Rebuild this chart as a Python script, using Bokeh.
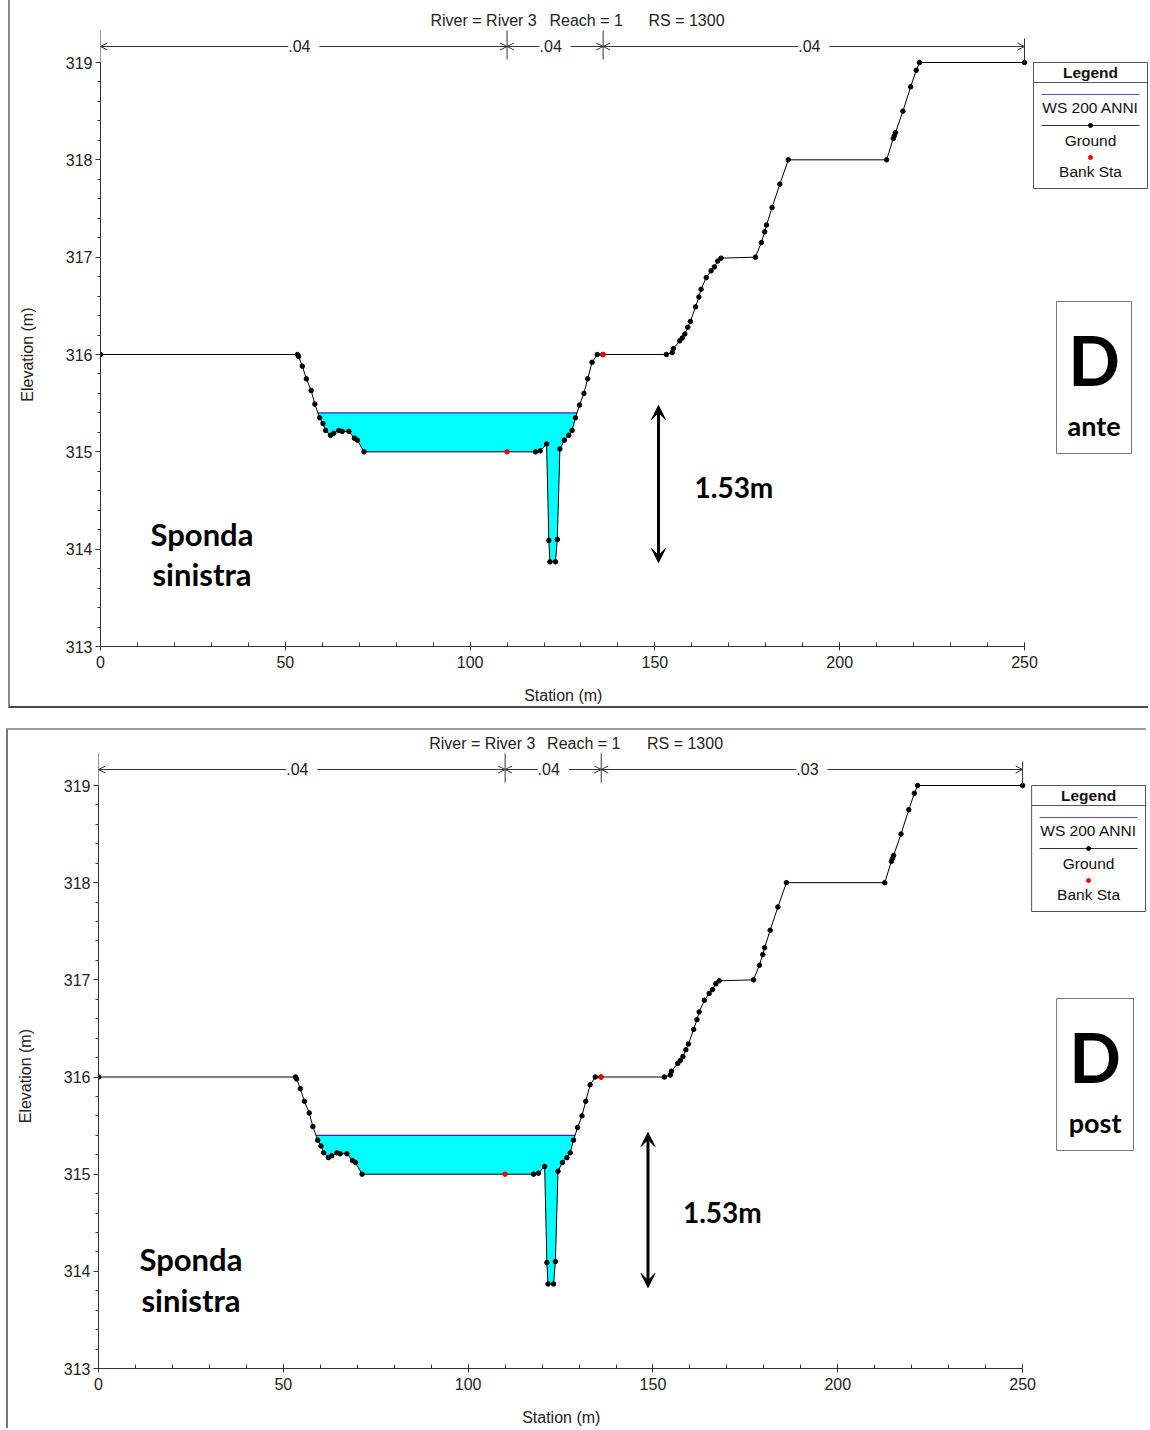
import numpy as np
from bokeh.plotting import figure
from bokeh.models import Range1d, FixedTicker, Label, Arrow, OpenHead, VeeHead
from bokeh.layouts import column
from bokeh.embed import file_html
from bokeh.resources import INLINE

# ---------------- data ----------------
station = [0, 53.3, 53.6, 54.6, 55.7, 57.0, 58.0, 59.3, 60.2, 60.9, 62.2, 63.1, 64.5,
           65.4, 67.2, 68.7, 69.5, 71.3, 117.7, 119.0, 120.7, 121.3, 121.6, 123.1,
           123.6, 124.3, 125.5, 126.7, 127.6, 128.5, 129.6, 130.8, 131.8, 133.0,
           134.4, 135.9, 153.1, 154.7, 155.0, 156.7, 157.4, 158.1, 158.9, 159.6,
           161.0, 161.9, 162.5, 163.9, 165.2, 166.1, 167.0, 167.9, 177.2, 178.8,
           179.7, 180.2, 181.7, 183.8, 186.1, 212.7, 214.5, 214.8, 215.1, 217.1,
           219.2, 220.7, 221.6, 250]
elevation = [316, 316, 315.98, 315.88, 315.75, 315.63, 315.49, 315.35, 315.29, 315.22,
             315.17, 315.19, 315.22, 315.21, 315.21, 315.14, 315.12, 315.0, 315.0,
             315.01, 315.08, 314.09, 313.87, 313.87, 314.10, 315.03, 315.12, 315.17,
             315.22, 315.35, 315.48, 315.60, 315.75, 315.92, 316.0, 316.0, 316.0,
             316.02, 316.06, 316.14, 316.17, 316.21, 316.28, 316.34, 316.49, 316.59,
             316.67, 316.79, 316.86, 316.90, 316.96, 316.99, 317.0, 317.15, 317.26,
             317.33, 317.51, 317.75, 318.0, 318.0, 318.22, 318.25, 318.28, 318.5,
             318.75, 318.92, 319.0, 319.0]
bank_stations = [110.0, 136.0]
ws_elevation = 315.40
n_ante = [".04", ".04", ".04"]
n_post = [".04", ".04", ".03"]
x_ticks = [0, 50, 100, 150, 200, 250]
y_ticks = [313, 314, 315, 316, 317, 318, 319]
header_texts = ["River = River 3", "Reach = 1", "RS = 1300"]
legend_title = "Legend"
legend_labels = ["WS 200 ANNI", "Ground", "Bank Sta"]
x_label = "Station (m)"
y_label = "Elevation (m)"
depth_text = "1.53m"
bank_text = ["Sponda", "sinistra"]
tags = [("D", "ante"), ("D", "post")]

FONT = "Liberation Sans"
BOLD = "Lato"
W = 1140
NBSP = "\u00a0"

st = np.array(station, dtype=float)
el = np.array(elevation, dtype=float)

# water polygon from ground / water-surface intersection
cross = []
for i in range(len(st) - 1):
    a, b = el[i] - ws_elevation, el[i + 1] - ws_elevation
    if a * b < 0:
        xc = st[i] + (ws_elevation - el[i]) * (st[i + 1] - st[i]) / (el[i + 1] - el[i])
        cross.append((i, xc))
(il, xl), (ir, xr) = cross[0], cross[-1]
wx = [xl] + list(st[il + 1:ir + 1]) + [xr]
wy = [ws_elevation] + list(el[il + 1:ir + 1]) + [ws_elevation]
bank_elev = list(np.interp(bank_stations, st, el))


def build(P, n_vals, tag):
    x0p, x250p, y319p, y313p = P["axis"]
    ctop, cleft, H = P["ctop"], P["cleft"], P["H"]
    sx = (x250p - x0p) / 250.0
    sy = (y313p - y319p) / 6.0

    def X(px):
        return (px - x0p) / sx

    def Y(py):
        return 313 + (y313p - py) / sy

    p = figure(width=W, height=H, output_backend="svg", toolbar_location=None,
               x_range=Range1d(0, (cleft + W - x0p) / sx),
               y_range=Range1d(313, Y(ctop)),
               min_border_left=x0p - cleft, min_border_right=0,
               min_border_top=0, min_border_bottom=ctop + H - y313p)
    p.styles = P["styles"]
    p.outline_line_color = None
    p.xgrid.visible = False
    p.ygrid.visible = False
    p.background_fill_color = "white"
    p.border_fill_color = "white"

    # axes
    p.xaxis.ticker = FixedTicker(ticks=x_ticks, minor_ticks=list(range(0, 251, 10)))
    p.yaxis.ticker = FixedTicker(ticks=y_ticks,
                                 minor_ticks=[313 + 0.2 * k for k in range(31)])
    p.xaxis.bounds = (0, 250)
    p.yaxis.bounds = (313, 319)
    for ax in (p.xaxis[0], p.yaxis[0]):
        ax.axis_line_color = "#333333"
        ax.major_tick_line_color = "#333333"
        ax.minor_tick_line_color = "#333333"
        ax.major_label_text_font = FONT
        ax.major_label_text_font_size = "16px"
        ax.major_label_text_color = "#222222"
        ax.axis_label_text_font = FONT
        ax.axis_label_text_font_size = "16px"
        ax.axis_label_text_font_style = "normal"
        ax.axis_label_text_color = "#222222"
    p.xaxis.major_tick_in = 4
    p.xaxis.major_tick_out = 4
    p.xaxis.minor_tick_in = 4
    p.xaxis.minor_tick_out = 0
    p.xaxis.major_label_standoff = 5
    p.yaxis.major_tick_in = 0
    p.yaxis.major_tick_out = 5
    p.yaxis.minor_tick_in = 0
    p.yaxis.minor_tick_out = 3
    p.yaxis.major_label_standoff = 3
    # the plot frame is wider/taller than the 0-250 / 313-319 axes, so the axis
    # titles are padded with non-breaking spaces to centre them on the axes
    p.xaxis.axis_label = x_label + NBSP * P["xpad"]
    p.xaxis.axis_label_standoff = 16
    p.yaxis.axis_label = y_label + NBSP * P["ypad"]
    p.yaxis.axis_label_standoff = 27

    # water
    p.patch(wx, wy, fill_color="#00FFFF", line_color=None)
    p.line([xl, xr], [ws_elevation, ws_elevation], line_color="#2a2ad0", line_width=1.2)
    # ground
    p.line(st, el, line_color="black", line_width=1)
    p.scatter(st, el, size=4.5, color="black")
    p.scatter(bank_stations, bank_elev, size=4.5, color="red")

    # Manning's n dimension lines
    ydim = Y(P["dim_y"])
    edges = [0.0] + bank_stations + [250.0]
    for k in range(3):
        p.add_layout(Arrow(x_start=edges[k], y_start=ydim, x_end=edges[k + 1], y_end=ydim,
                           start=OpenHead(size=7, line_width=1, line_color="#333333"),
                           end=OpenHead(size=7, line_width=1, line_color="#333333"),
                           line_width=1, line_color="#333333"))
        p.add_layout(Label(x=(edges[k] + edges[k + 1]) / 2, y=ydim, text=" " + n_vals[k] + " ",
                           text_align="center", text_baseline="middle",
                           text_font=FONT, text_font_size="16px", text_color="#222222",
                           background_fill_color="white"))
    ytk_top = Y(P["dim_y"] - 16)
    ytk_bot = Y(P["dim_y"] + 13)
    p.segment(x0=bank_stations, y0=[ytk_bot] * 2, x1=bank_stations, y1=[ytk_top] * 2,
              line_color="#333333", line_width=1)
    p.segment(x0=[0, 250], y0=[319, 319], x1=[0, 250], y1=[ytk_top, Y(P["dim_y"] - 8)],
              line_color="#333333", line_width=1)

    # header
    for (hx, txt) in zip(P["header_x"], header_texts):
        p.add_layout(Label(x=X(hx), y=Y(P["header_y"]), text=txt, text_align="left",
                           text_baseline="middle", text_font=FONT, text_font_size="16px",
                           text_color="#222222"))

    # legend box
    lx0, lx1, ly0, ly1 = P["legend"]
    p.quad(left=X(lx0), right=X(lx1), top=Y(ly0), bottom=Y(ly1),
           fill_color="white", line_color="#555555", line_width=1)
    cx = (lx0 + lx1) / 2
    p.add_layout(Label(x=X(cx), y=Y(ly0 + 10), text=legend_title, text_align="center",
                       text_baseline="middle", text_font=FONT, text_font_size="15.5px",
                       text_font_style="bold", text_color="#111111"))
    p.segment(x0=X(lx0), y0=Y(ly0 + 20), x1=X(lx1), y1=Y(ly0 + 20),
              line_color="#555555", line_width=1)
    p.segment(x0=X(lx0 + 8), y0=Y(ly0 + 32), x1=X(lx1 - 8), y1=Y(ly0 + 32),
              line_color="#5050c0", line_width=1.2)
    p.segment(x0=X(lx0 + 8), y0=Y(ly0 + 63), x1=X(lx1 - 8), y1=Y(ly0 + 63),
              line_color="#333333", line_width=1)
    p.scatter(x=[X(cx)], y=[Y(ly0 + 63)], size=4, color="black")
    p.scatter(x=[X(cx)], y=[Y(ly0 + 95)], size=4, color="red")
    for dy, txt in zip([45, 78, 109], legend_labels):
        p.add_layout(Label(x=X(cx), y=Y(ly0 + dy), text=txt, text_align="center",
                           text_baseline="middle", text_font=FONT, text_font_size="15.5px",
                           text_color="#111111"))

    # tag box (D ante / post)
    bx0, bx1, by0, by1 = P["tagbox"]
    p.quad(left=X(bx0), right=X(bx1), top=Y(by0), bottom=Y(by1),
           fill_color="white", line_color="#777777", line_width=1)
    bcx = (bx0 + bx1) / 2
    p.add_layout(Label(x=X(bcx), y=Y(by0 + 58), text=tag[0], text_align="center",
                       text_baseline="middle", text_font=BOLD, text_font_size="68px",
                       text_font_style="bold", text_color="black"))
    p.add_layout(Label(x=X(bcx), y=Y(by0 + 124), text=tag[1], text_align="center",
                       text_baseline="middle", text_font=BOLD, text_font_size="27px",
                       text_font_style="bold", text_color="black"))

    # depth arrow
    ax_, ay0, ay1 = P["arrow"]
    p.add_layout(Arrow(x_start=X(ax_), y_start=Y(ay1), x_end=X(ax_), y_end=Y(ay0),
                       start=VeeHead(size=14, fill_color="black", line_color="black"),
                       end=VeeHead(size=14, fill_color="black", line_color="black"),
                       line_width=3, line_color="black"))
    dtx, dty = P["depth_txt"]
    p.add_layout(Label(x=X(dtx), y=Y(dty), text=depth_text, text_align="left",
                       text_baseline="middle", text_font=BOLD, text_font_size="28px",
                       text_font_style="bold", text_color="black"))
    # bank label
    for (tx, ty), txt in zip(P["bank_txt"], bank_text):
        p.add_layout(Label(x=X(tx), y=Y(ty), text=txt, text_align="left",
                           text_baseline="middle", text_font=BOLD, text_font_size="31px",
                           text_font_style="bold", text_color="black"))
    return p


P1 = dict(axis=(100, 1024, 62, 646), ctop=0, cleft=10, H=708,
          styles={"margin-left": "8px", "border-left": "2px solid #8a8a8a",
                  "border-bottom": "2px solid #4a4a4a"},
          dim_y=46, header_y=20, header_x=[430, 549, 648], xpad=28, ypad=14,
          legend=(1033, 1147, 62, 188), tagbox=(1056, 1131, 301, 453),
          arrow=(658, 405, 562), depth_txt=(694, 486),
          bank_txt=[(150, 533), (152, 573)])
P2 = dict(axis=(97, 1022, 785, 1368), ctop=730, cleft=8, H=700,
          styles={"margin-left": "6px", "border-left": "2px solid #777777",
                  "border-top": "2px solid #9a9a9a"},
          dim_y=769, header_y=743, header_x=[428, 546, 646], xpad=28, ypad=12,
          legend=(1031, 1145, 785, 911), tagbox=(1056, 1133, 998, 1150),
          arrow=(647, 1132, 1287), depth_txt=(682, 1211),
          bank_txt=[(138, 1258), (140, 1299)])

p1 = build(P1, n_ante, tags[0])
p2 = build(P2, n_post, tags[1])
layout = column(p1, p2, spacing=20)
open("out.html", "w").write(file_html(layout, INLINE))
